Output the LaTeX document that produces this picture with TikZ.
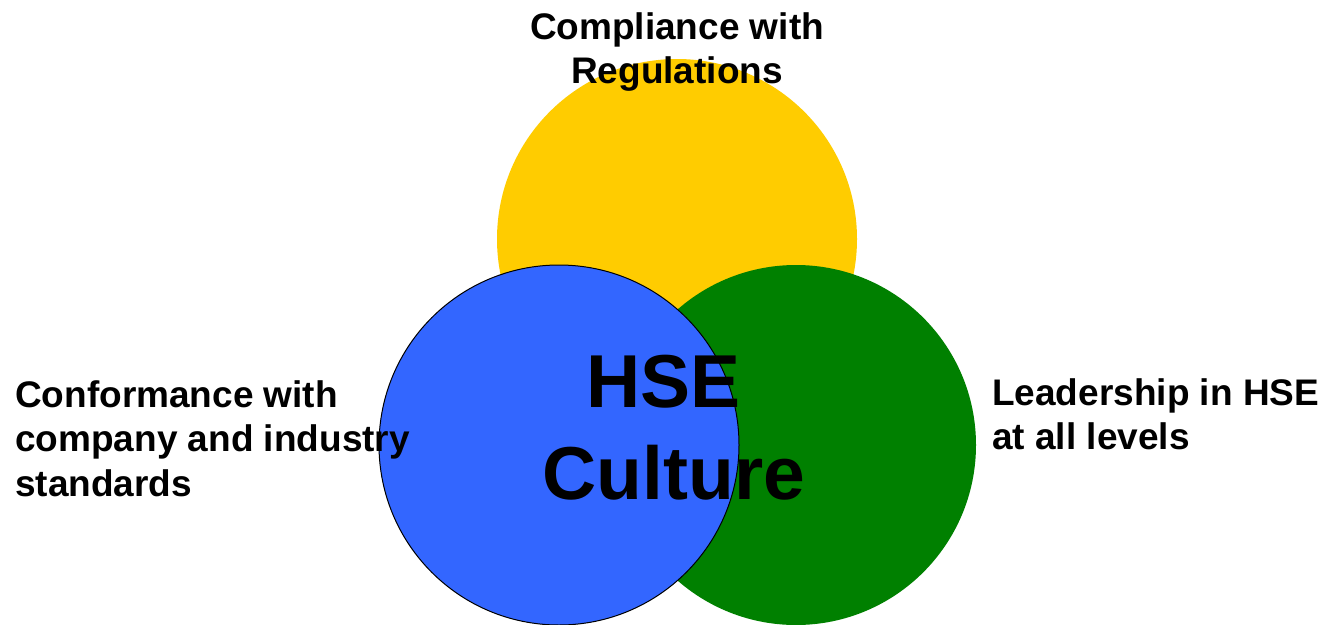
\documentclass[tikz,border=0pt]{standalone}
\usepackage{fontspec}
\setmainfont{Liberation Sans}
\usetikzlibrary{positioning}
\definecolor{myyellow}{RGB}{255,204,0}
\definecolor{myblue}{RGB}{51,102,255}
\definecolor{mygreen}{RGB}{0,128,0}

\begin{document}
\begin{tikzpicture}[
          x=1pt,y=-1pt,
          set/.style={circle,minimum size=360pt,inner sep=0pt},
          goal/.style={font=\fontsize{37}{44.5}\selectfont\bfseries,inner sep=0pt},
          core/.style={font=\fontsize{75}{92}\selectfont\bfseries,inner sep=0pt,align=center}
          ]
          \useasboundingbox (0,0) rectangle (1325,624);
          % the three sets
          \node[set,fill=myyellow] (comply) at (677,239) {};
          \node[set,fill=mygreen] (lead) at (796,445) {};
          \node[set,fill=myblue,draw=black,line width=1pt] (conform) at (559,445) {};
          % the labels
          \node[goal,align=center,anchor=north] (complytxt) at (677,12) {Compliance with\\Regulations};
          \node[goal,align=left,anchor=north west] (conformtxt) at (15,380) {Conformance with\\company and industry\\standards};
          \node[goal,align=left,anchor=north west] (leadtxt) at (992,378) {Leadership in HSE\\at all levels};
          % the centre
          \node[core,anchor=north] (culture) at (674,355) {HSE\hspace*{0.278em}\\Culture};
        \end{tikzpicture}
\end{document}
